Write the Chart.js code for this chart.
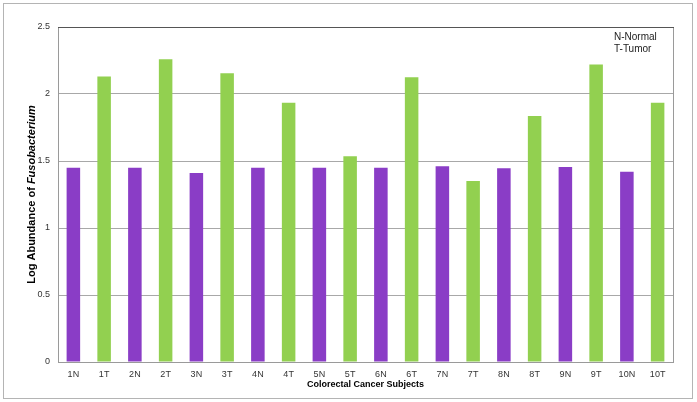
<!DOCTYPE html>
<html>
<head>
<meta charset="utf-8">
<script src="https://cdn.jsdelivr.net/npm/chart.js@4"></script>
<style>
  html, body { margin: 0; padding: 0; background: #fff; }
  #wrap { width: 697px; height: 402px; }
</style>
</head>
<body>
<div id="wrap"><canvas id="abundanceChart" width="697" height="402"></canvas></div>
<script>
const subjects = ['1N', '1T', '2N', '2T', '3N', '3T', '4N', '4T', '5N', '5T',
                  '6N', '6T', '7N', '7T', '8N', '8T', '9N', '9T', '10N', '10T'];
const logAbundance = [1.45, 2.13, 1.45, 2.26, 1.41, 2.155, 1.45, 1.935, 1.45, 1.535,
                      1.45, 2.125, 1.46, 1.35, 1.445, 1.835, 1.455, 2.22, 1.42, 1.935];
const yTicks = [0, 0.5, 1, 1.5, 2, 2.5];

const purple = '#8a3dc6';
const green = '#92d050';
const barColors = subjects.map(s => s.endsWith('N') ? purple : green);

const font = '"Liberation Sans", Arial, sans-serif';

// outer frame, plot frame, axis titles and the N/T note
const decorations = {
  id: 'decorations',
  beforeDraw(chart) {
    const c = chart.ctx;
    c.save();
    c.fillStyle = '#fff';
    c.fillRect(0, 0, chart.width, chart.height);
    c.strokeStyle = '#b4b4b4';
    c.lineWidth = 1;
    c.strokeRect(3.5, 3.5, 689, 395);
    c.restore();
  },
  afterDraw(chart) {
    const c = chart.ctx;
    const a = chart.chartArea;
    c.save();
    c.strokeStyle = '#9a9a9a';
    c.lineWidth = 1;
    c.beginPath();
    c.moveTo(Math.round(a.right) + 0.5, a.top);
    c.lineTo(Math.round(a.right) + 0.5, a.bottom);
    c.stroke();
    c.strokeStyle = '#555';
    c.beginPath();
    c.moveTo(a.left, Math.round(a.top) + 0.5);
    c.lineTo(a.right + 1, Math.round(a.top) + 0.5);
    c.stroke();

    // y title, mixed bold / bold italic
    c.fillStyle = '#000';
    c.textBaseline = 'middle';
    const p1 = 'Log Abundance of ';
    const p2 = 'Fusobacterium';
    const f1 = 'bold 11px ' + font;
    const f2 = 'italic bold 11px ' + font;
    c.font = f1;
    const w1 = c.measureText(p1).width;
    c.font = f2;
    const w2 = c.measureText(p2).width;
    c.translate(32, (a.top + a.bottom) / 2);
    c.rotate(-Math.PI / 2);
    c.textAlign = 'left';
    c.font = f1;
    c.fillText(p1, -(w1 + w2) / 2, 0);
    c.font = f2;
    c.fillText(p2, -(w1 + w2) / 2 + w1, 0);
    c.setTransform(1, 0, 0, 1, 0, 0);

    // x title
    c.textAlign = 'center';
    c.font = 'bold 9px ' + font;
    c.fillText('Colorectal Cancer Subjects', (a.left + a.right) / 2, 385);

    // note
    c.textAlign = 'left';
    c.font = '10px ' + font;
    c.fillStyle = '#222';
    c.fillText('N-Normal', 614, 37);
    c.fillText('T-Tumor', 614, 49);
    c.restore();
  }
};

new Chart(document.getElementById('abundanceChart').getContext('2d'), {
  type: 'bar',
  data: {
    labels: subjects,
    datasets: [{
      label: 'Log Abundance',
      data: logAbundance,
      backgroundColor: barColors,
      borderWidth: 0,
      barPercentage: 0.44,
      categoryPercentage: 1
    }]
  },
  options: {
    responsive: false,
    animation: false,
    layout: { padding: { left: 0, right: 24, top: 27, bottom: 0 } },
    scales: {
      x: {
        grid: { display: false, drawTicks: false },
        border: { color: '#9a9a9a' },
        ticks: { color: '#333', font: { family: font, size: 9 }, maxRotation: 0, padding: 7 },
        afterFit(scale) { scale.height = 40; }
      },
      y: {
        min: 0,
        max: 2.5,
        afterBuildTicks(scale) { scale.ticks = yTicks.map(v => ({ value: v })); },
        grid: { color: '#a8a8a8', drawTicks: false },
        border: { color: '#9a9a9a' },
        ticks: { color: '#333', font: { family: font, size: 9 }, padding: 8,
                 callback: v => String(v) },
        afterFit(scale) { scale.width = 58; }
      }
    },
    plugins: {
      legend: { display: false },
      tooltip: { enabled: false }
    }
  },
  plugins: [decorations]
});
</script>
</body>
</html>
